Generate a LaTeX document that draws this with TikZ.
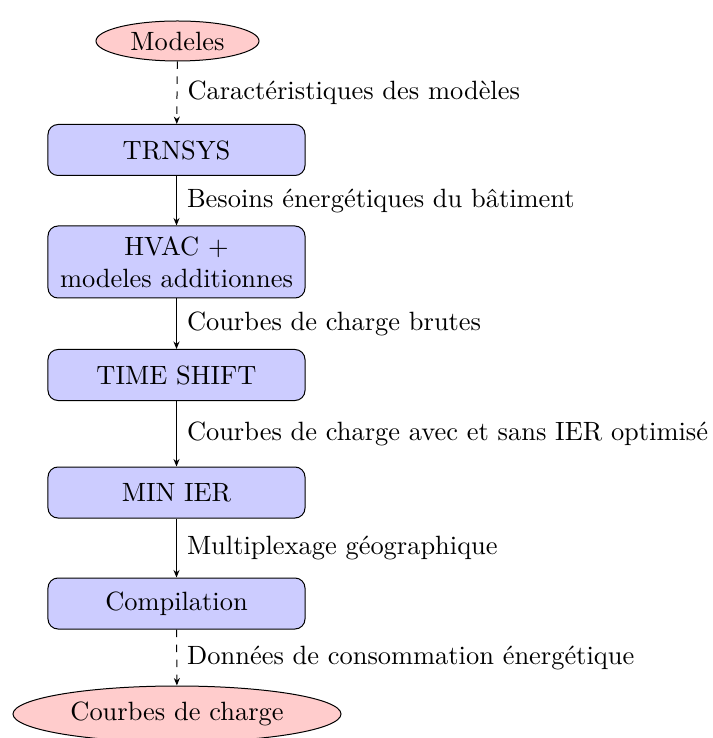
\documentclass[tikz,border=0pt]{standalone}
\usetikzlibrary{arrows.meta,shapes.geometric}
\begin{document}
\begin{tikzpicture}[x=0.4pt,y=-0.4pt,
  every node/.style={font=\fontsize{10.57}{12.9}\selectfont},
  procbox/.style={draw,fill=blue!20,rounded corners=4pt,minimum width=102.8pt,minimum height=20.4pt,align=center,inner sep=2pt},
  termell/.style={draw,fill=red!20,ellipse,inner sep=0pt},
  flow/.style={-{Stealth[length=3pt,width=2.4pt]}},
  lbl/.style={right,inner sep=0pt,xshift=4pt}]
\useasboundingbox (0,0) rectangle (712,738);
\node[termell,minimum width=65.2pt,minimum height=16pt] (mod) at (177.5,41) {Modeles};
\node[procbox] (trn) at (176.5,150) {TRNSYS};
\node[procbox,minimum height=28.8pt] (hvac) at (176.5,262) {HVAC +\\modeles additionnes};
\node[procbox] (ts) at (176.5,375) {TIME SHIFT};
\node[procbox] (min) at (176.5,492.5) {MIN IER};
\node[procbox] (comp) at (176.5,603.5) {Compilation};
\node[termell,minimum width=131.2pt,minimum height=22.4pt] (cc) at (177,714) {Courbes de charge};
\draw[flow,dashed] (mod) -- node[lbl]{Caractéristiques des modèles} (trn);
\draw[flow] (trn) -- node[lbl]{Besoins énergétiques du bâtiment} (hvac);
\draw[flow] (hvac) -- node[lbl]{Courbes de charge brutes} (ts);
\draw[flow] (ts) -- node[lbl]{Courbes de charge avec et sans IER optimisé} (min);
\draw[flow] (min) -- node[lbl]{Multiplexage géographique} (comp);
\draw[flow,dashed] (comp) -- node[lbl]{Données de consommation énergétique} (cc);
\end{tikzpicture}
\end{document}
